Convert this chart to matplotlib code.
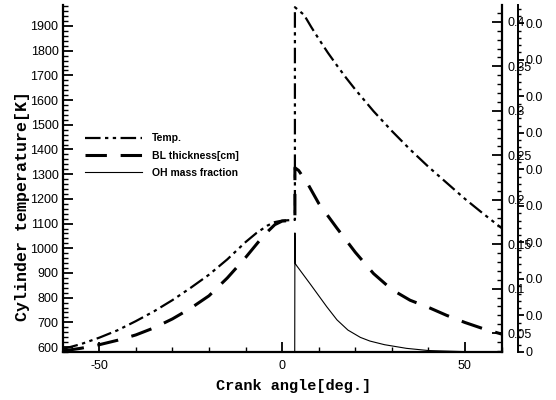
import matplotlib
matplotlib.use('Agg')
import matplotlib.pyplot as plt
from matplotlib.ticker import MultipleLocator, FixedLocator, FixedFormatter

plt.rcParams['axes.unicode_minus'] = False

# ---- data ----
crank_temp = [-60, -55, -50, -45, -40, -35, -30, -25, -20, -15, -10, -7, -4, -2, 0, 3.5,
              3.5, 6, 8, 10, 12.5, 15, 17.5, 20, 25, 30, 35, 40, 45, 50, 55, 60]
temp_K = [592, 612, 638, 668, 705, 745, 790, 840, 893, 955, 1025, 1062, 1092, 1106, 1112, 1115,
          1976, 1945, 1895, 1848, 1792, 1740, 1690, 1643, 1555, 1475, 1400, 1330, 1265, 1200, 1140, 1082]

crank_bl = [-60, -55, -50, -45, -40, -35, -30, -25, -20, -15, -10, -5, -2, 0, 3.5,
            3.5, 4.5, 7, 10, 15, 20, 25, 30, 35, 40, 45, 50, 55, 60]
bl_cm = [0.030, 0.033, 0.037, 0.042, 0.048, 0.056, 0.066, 0.078, 0.092, 0.112, 0.135, 0.160, 0.172, 0.176, 0.177,
         0.236, 0.233, 0.218, 0.196, 0.168, 0.141, 0.117, 0.099, 0.087, 0.079, 0.070, 0.062, 0.055, 0.049]

crank_oh = [-60, 3.45, 3.5, 3.6, 4.0, 7.7, 12.2, 15.0, 18.0, 21.4, 24.0, 28.0, 34.0, 40, 50, 60]
oh_frac = [0.0, 0.0, 0.0163, 0.0121, 0.0118, 0.0093, 0.0062, 0.0044, 0.0030, 0.0020, 0.0015, 0.0010,
           0.0005, 0.0002, 0.00005, 0.0]

left_ticks = list(range(600, 2000, 100))
bl_ticks = [0.05, 0.1, 0.15, 0.2, 0.25, 0.3, 0.35, 0.4]
oh_ticks = [0.0, 0.005, 0.01, 0.015, 0.02, 0.025, 0.03, 0.035, 0.04, 0.045]
oh_labels = ['0'] + ['0.0'] * 9
x_ticks = [-50, 0, 50]

legend_labels = ['Temp.', 'BL thickness[cm]', 'OH mass fraction']

tick_font = 'Liberation Sans'
label_font = 'Liberation Mono'

fig = plt.figure(figsize=(5.56, 4.0), dpi=100)
ax = fig.add_axes([0.1128, 0.12, 0.7892, 0.8675])
ax2 = ax.twinx()
ax3 = ax.twinx()

l1, = ax.plot(crank_temp, temp_K, color='black', lw=1.6, dashes=(7, 2, 1.5, 2, 1.5, 2))
l2, = ax2.plot(crank_bl, bl_cm, color='black', lw=2.2, dashes=(7, 4.5))
l3, = ax3.plot(crank_oh, oh_frac, color='black', lw=0.8)

ax.set_xlim(-60, 60)
ax.set_ylim(580, 1985)
ax2.set_ylim(0.0288, 0.419)
ax3.set_ylim(0, 0.0475)

# main axis
for s in ['top', 'right']:
    ax.spines[s].set_visible(False)
ax.spines['left'].set_linewidth(1.6)
ax.spines['bottom'].set_linewidth(1.6)
ax.xaxis.set_major_locator(FixedLocator(x_ticks))
ax.xaxis.set_minor_locator(MultipleLocator(10))
ax.yaxis.set_major_locator(FixedLocator(left_ticks))
ax.yaxis.set_minor_locator(MultipleLocator(20))
ax.tick_params(axis='both', which='major', direction='in', length=7, width=1.3,
               labelsize=9, pad=3)
ax.tick_params(axis='both', which='minor', direction='in', length=3.5, width=1.0)
ax.tick_params(axis='x', pad=6)
for t in ax.get_xticklabels() + ax.get_yticklabels():
    t.set_fontfamily(tick_font)

ax.set_xlabel('Crank angle[deg.]', fontfamily=label_font, fontweight='bold', fontsize=11)
ax.xaxis.set_label_coords(0.527, -0.078)
ax.set_ylabel('Cylinder temperature[K]', fontfamily=label_font, fontweight='bold', fontsize=12)
ax.yaxis.set_label_coords(-0.075, 0.42)

# BL axis (right spine)
for s in ['top', 'left', 'bottom']:
    ax2.spines[s].set_visible(False)
ax2.spines['right'].set_linewidth(1.6)
ax2.yaxis.set_major_locator(FixedLocator(bl_ticks))
ax2.yaxis.set_major_formatter(FixedFormatter([f'{v:g}' for v in bl_ticks]))
ax2.yaxis.set_minor_locator(MultipleLocator(0.01))
ax2.tick_params(axis='y', which='major', direction='in', length=7, width=1.3, labelsize=9, pad=4)
ax2.tick_params(axis='y', which='minor', direction='in', length=3.5, width=1.0)
for t in ax2.get_yticklabels():
    t.set_fontfamily(tick_font)

# OH axis (offset spine)
for s in ['top', 'left', 'bottom']:
    ax3.spines[s].set_visible(False)
ax3.spines['right'].set_position(('outward', 12))
ax3.spines['right'].set_linewidth(1.4)
ax3.yaxis.set_major_locator(FixedLocator(oh_ticks))
ax3.yaxis.set_major_formatter(FixedFormatter(oh_labels))
ax3.yaxis.set_minor_locator(MultipleLocator(0.001))
ax3.tick_params(axis='y', which='major', direction='out', length=4.5, width=1.3, labelsize=9, pad=0.5)
ax3.tick_params(axis='y', which='minor', direction='out', length=2.5, width=1.0)
for t in ax3.get_yticklabels():
    t.set_fontfamily(tick_font)

leg = ax.legend([l1, l2, l3], legend_labels, loc='upper left',
                bbox_to_anchor=(0.039, 0.645), frameon=False, borderpad=0,
                handlelength=5.5, handletextpad=0.9, labelspacing=0.7,
                prop={'family': tick_font, 'weight': 'bold', 'size': 7.5})

fig.savefig('out.png', dpi=100)
